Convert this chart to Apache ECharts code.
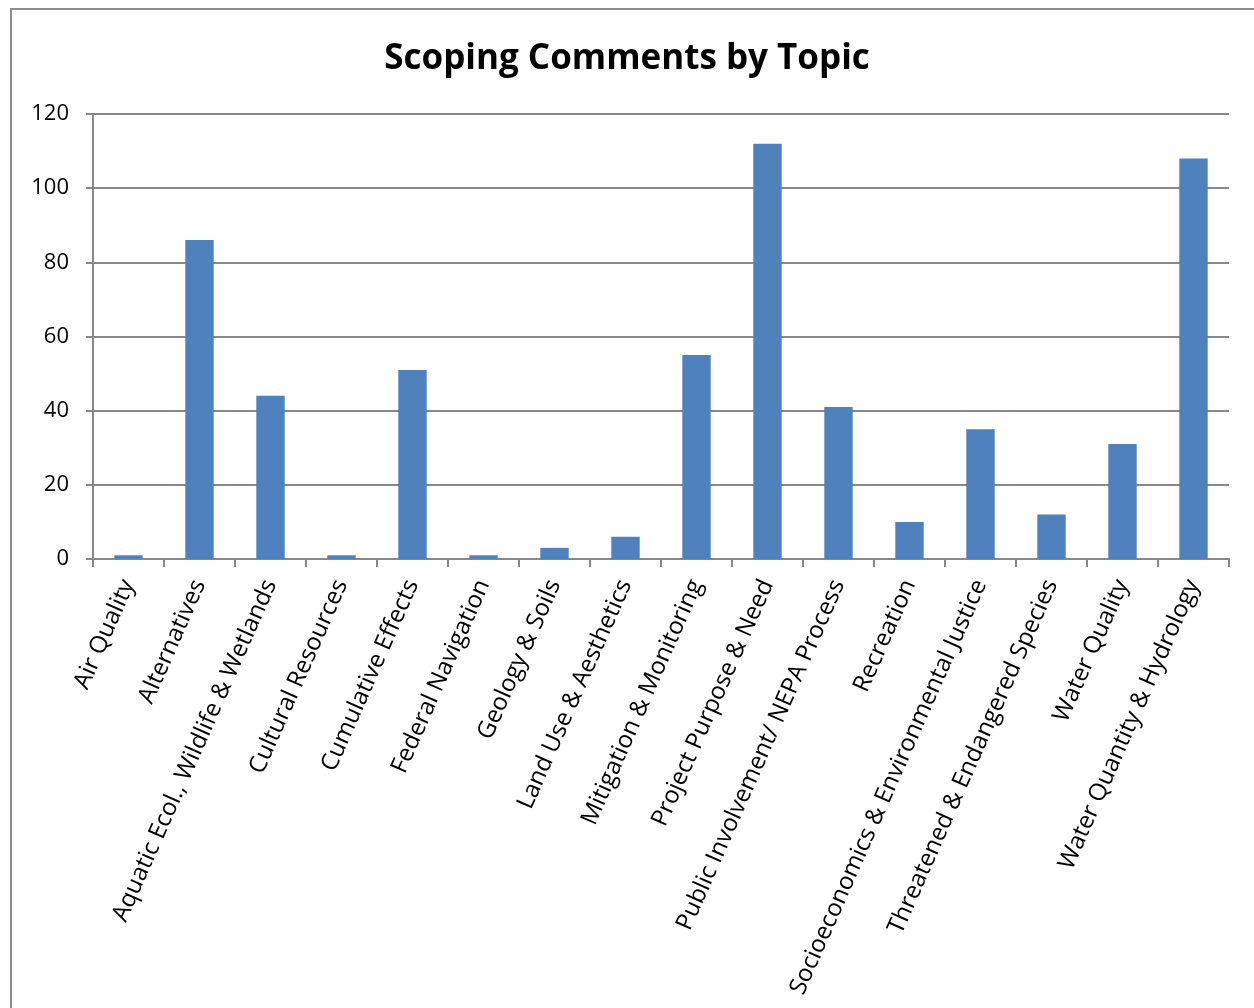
<!DOCTYPE html>
<html>
<head>
<meta charset="utf-8">
<script src="https://cdn.jsdelivr.net/npm/echarts@6/dist/echarts.min.js"></script>
<style>
  html, body { margin: 0; padding: 0; background: #fff; }
  #chart { width: 1254px; height: 1008px; }
</style>
</head>
<body>
<div id="chart"></div>
<script>
const topics = [
  'Air Quality',
  'Alternatives',
  'Aquatic Ecol., Wildlife & Wetlands',
  'Cultural Resources',
  'Cumulative Effects',
  'Federal Navigation',
  'Geology & Soils',
  'Land Use & Aesthetics',
  'Mitigation & Monitoring',
  'Project Purpose & Need',
  'Public Involvement/ NEPA Process',
  'Recreation',
  'Socioeconomics & Environmental Justice',
  'Threatened & Endangered Species',
  'Water Quality',
  'Water Quantity & Hydrology'
];
const commentCounts = [1, 86, 44, 1, 51, 1, 3, 6, 55, 112, 41, 10, 35, 12, 31, 108];
const yTicks = { min: 0, max: 120, interval: 20 };

const FONT = '"Open Sans", "Noto Sans", sans-serif';
const chart = echarts.init(document.getElementById('chart'));
chart.setOption({
  animation: false,
  backgroundColor: '#ffffff',
  title: {
    text: 'Scoping Comments by Topic',
    left: 'center',
    top: 37,
    textStyle: { fontFamily: FONT, fontSize: 35, fontWeight: 'bold', color: '#000' }
  },
  graphic: [{
    type: 'rect',
    shape: { x: 11, y: 9, width: 1300, height: 1100 },
    style: { fill: 'none', stroke: '#8c8c8c', lineWidth: 2 },
    silent: true
  }],
  grid: { left: 93, right: 25, top: 114, bottom: 449, containLabel: false },
  xAxis: {
    type: 'category',
    data: topics,
    axisLine: { lineStyle: { color: '#888', width: 2 } },
    axisTick: { show: true, length: 8, lineStyle: { color: '#888', width: 2 } },
    axisLabel: {
      interval: 0,
      rotate: 66,
      margin: 22,
      fontFamily: FONT,
      fontSize: 24,
      color: '#000'
    }
  },
  yAxis: {
    type: 'value',
    min: yTicks.min,
    max: yTicks.max,
    interval: yTicks.interval,
    axisLine: { show: true, lineStyle: { color: '#888', width: 2 } },
    axisTick: { show: true, length: 7, lineStyle: { color: '#888', width: 2 } },
    splitLine: { lineStyle: { color: '#888', width: 2 } },
    axisLabel: { margin: 24, fontFamily: FONT, fontSize: 22, color: '#000' }
  },
  series: [{
    type: 'bar',
    data: commentCounts,
    barWidth: '40%',
    itemStyle: { color: '#4f81bd' }
  }]
});
</script>
</body>
</html>
